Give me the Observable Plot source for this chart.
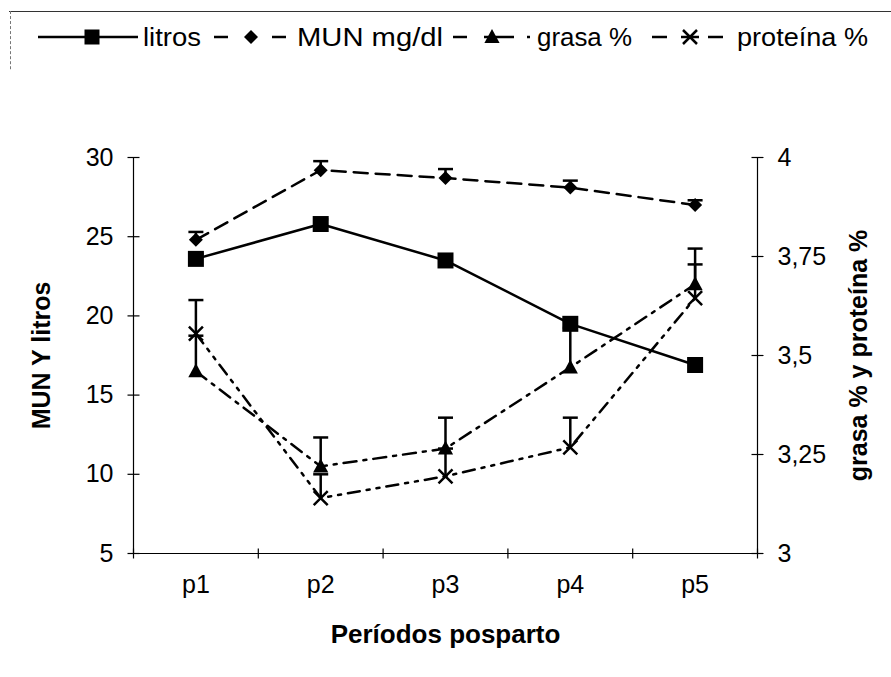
<!DOCTYPE html>
<html><head><meta charset="utf-8">
<script src="https://cdn.jsdelivr.net/npm/d3@7"></script>
<script src="https://cdn.jsdelivr.net/npm/@observablehq/plot@0.6"></script>
<style>
body{margin:0;background:#fff;font-family:"Liberation Sans",Arial,sans-serif;}
#wrap{position:relative;width:891px;height:677px;overflow:hidden;background:#fff;}
#legend{position:absolute;left:0;top:0;width:891px;height:70px;}
#chart{position:absolute;left:0;top:70px;}
#btop{position:absolute;left:9px;top:11px;width:882px;height:0;border-top:1.5px solid #333;}
#bleft{position:absolute;left:10px;top:11px;width:0;height:485px;border-left:1px dashed #777;}
</style></head><body>
<div id="wrap"><div id="btop"></div><div id="bleft"></div><div id="legend"></div><div id="chart"></div></div>
<script>
// ---- data ----
const periods = ["p1", "p2", "p3", "p4", "p5"];
const litros = [23.6, 25.8, 23.5, 19.5, 16.9];
const litrosErr = [0.3, 0.3, 0.3, 0.3, 0.2];
const mun = [24.8, 29.2, 28.7, 28.1, 27.0];
const munErr = [0.5, 0.57, 0.57, 0.44, 0.3];
const grasa = [3.46, 3.22, 3.265, 3.47, 3.68];
const grasaErr = [0.09, 0.073, 0.078, 0.10, 0.09];
const proteina = [3.555, 3.14, 3.195, 3.268, 3.645];
const proteinaErr = [0.085, 0.06, 0.07, 0.075, 0.085];
const leftTicks = [5, 10, 15, 20, 25, 30];
const rightTicks = [3, 3.25, 3.5, 3.75, 4];
const seriesNames = ["litros", "MUN mg/dl", "grasa %", "proteína %"];

// right axis (3..4) mapped onto left scale (5..30)
const toLeft = v => 5 + (v - 3) * 25;
const fmtRight = v => String(v).replace(".", ",");

const rowsOf = (vals, errs, right) => vals.map((v, k) => ({
  i: k + 1,
  v: right ? toLeft(v) : v,
  top: right ? toLeft(v + errs[k]) : v + errs[k]
}));
const rLitros = rowsOf(litros, litrosErr, false);
const rMun = rowsOf(mun, munErr, false);
const rGrasa = rowsOf(grasa, grasaErr, true);
const rProt = rowsOf(proteina, proteinaErr, true);

// custom symbols (r = half size)
const half = size => Math.sqrt(size / Math.PI);
const symSquare = {draw(c, s){const r = half(s); c.rect(-r, -r, 2*r, 2*r);}};
const symDiamond = {draw(c, s){const r = half(s); c.moveTo(0,-r); c.lineTo(r,0); c.lineTo(0,r); c.lineTo(-r,0); c.closePath();}};
const symTri = {draw(c, s){const r = half(s); c.moveTo(0,-r); c.lineTo(r*0.95, r*0.75); c.lineTo(-r*0.95, r*0.75); c.closePath();}};
const symX = {draw(c, s){const r = half(s); c.moveTo(-r,-r); c.lineTo(r,r); c.moveTo(r,-r); c.lineTo(-r,r);}};
const symH = {draw(c, s){const r = half(s); c.moveTo(-r,0); c.lineTo(r,0);}};
const symV = {draw(c, s){const r = half(s); c.moveTo(0,-r); c.lineTo(0,r);}};

const FS = 25;
const xBounds = [0.5, 1.5, 2.5, 3.5, 4.5, 5.5];

const errMarks = (rows) => [
  Plot.ruleX(rows, {x: "i", y1: "v", y2: "top", stroke: "black", strokeWidth: 2.5}),
  Plot.dot(rows, {x: "i", y: "top", symbol: symH, r: 7.5, stroke: "black", strokeWidth: 2.5, fill: "none"})
];

const plot = Plot.plot({
  width: 891,
  height: 607,
  marginTop: 87,
  marginBottom: 124,
  marginLeft: 133,
  marginRight: 134,
  style: {fontFamily: '"Liberation Sans", Arial, sans-serif', fontSize: FS + "px", color: "black", background: "white"},
  x: {domain: [0.5, 5.5], axis: null},
  y: {domain: [5, 30], axis: null},
  marks: [
    // axis lines
    Plot.ruleX([0.5, 5.5], {y1: 5, y2: 30, stroke: "black", strokeWidth: 1.2}),
    Plot.ruleY([5], {x1: 0.5, x2: 5.5, stroke: "black", strokeWidth: 1.2}),
    // tick marks crossing the axes
    Plot.dot(leftTicks, {x: 0.5, y: d => d, symbol: symH, r: 6, stroke: "black", strokeWidth: 1.2}),
    Plot.dot(rightTicks.map(toLeft), {x: 5.5, y: d => d, symbol: symH, r: 6, stroke: "black", strokeWidth: 1.2}),
    Plot.dot(xBounds, {x: d => d, y: 5, symbol: symV, r: 5, stroke: "black", strokeWidth: 1.2}),
    // tick labels
    Plot.axisY({anchor: "left", ticks: leftTicks, tickSize: 0, tickPadding: 20, fontSize: FS, label: null}),
    Plot.axisY({anchor: "right", ticks: rightTicks.map(toLeft), tickFormat: v => fmtRight(3 + (v - 5) / 25), tickSize: 0, tickPadding: 20, fontSize: FS, label: null}),
    Plot.axisX({ticks: [1, 2, 3, 4, 5], tickFormat: i => periods[i - 1], tickSize: 0, tickPadding: 22, fontSize: FS, label: null}),
    // axis titles
    Plot.text(["MUN Y litros"], {frameAnchor: "left", textAnchor: "middle", dx: -92, rotate: -90, fontWeight: "bold", fontSize: FS, text: d => d}),
    Plot.text(["grasa % y proteína %"], {frameAnchor: "right", textAnchor: "middle", dx: 101, rotate: -90, fontWeight: "bold", fontSize: FS, text: d => d}),
    Plot.text(["Períodos posparto"], {frameAnchor: "bottom", dy: 89, fontWeight: "bold", fontSize: 26, text: d => d}),
    // error bars
    ...errMarks(rLitros), ...errMarks(rMun), ...errMarks(rGrasa), ...errMarks(rProt),
    // lines
    Plot.line(rLitros, {x: "i", y: "v", stroke: "black", strokeWidth: 2.5}),
    Plot.line(rMun, {x: "i", y: "v", stroke: "black", strokeWidth: 2.5, strokeDasharray: "14,8"}),
    Plot.line(rGrasa, {x: "i", y: "v", stroke: "black", strokeWidth: 2.5, strokeDasharray: "13,7,3,7"}),
    Plot.line(rProt, {x: "i", y: "v", stroke: "black", strokeWidth: 2.5, strokeDasharray: "12,7,3,7,3,7"}),
    // markers
    Plot.dot(rLitros, {x: "i", y: "v", symbol: symSquare, r: 8, fill: "black"}),
    Plot.dot(rMun, {x: "i", y: "v", symbol: symDiamond, r: 7, fill: "black"}),
    Plot.dot(rGrasa, {x: "i", y: "v", symbol: symTri, r: 8, fill: "black"}),
    Plot.dot(rProt, {x: "i", y: "v", symbol: symX, r: 7, stroke: "black", strokeWidth: 2.5, fill: "none"})
  ]
});
document.getElementById("chart").appendChild(plot);

// ---- legend ----
const ns = "http://www.w3.org/2000/svg";
const lg = document.createElementNS(ns, "svg");
lg.setAttribute("width", 891); lg.setAttribute("height", 70);
lg.style.fontFamily = '"Liberation Sans", Arial, sans-serif';
const Y = 37;
function el(tag, attrs){const e = document.createElementNS(ns, tag); for (const k in attrs) e.setAttribute(k, attrs[k]); lg.appendChild(e); return e;}
function seg(a, b){el("line", {x1: a, x2: b, y1: Y, y2: Y, stroke: "black", "stroke-width": 2.5});}
const items = [
  {name: seriesNames[0], segs: [[38, 138]], mx: 92, sym: "square", tx: 143, tw: 58},
  {name: seriesNames[1], segs: [[214, 228], [272, 286]], mx: 251, sym: "diamond", tx: 297, tw: 146},
  {name: seriesNames[2], segs: [[453, 467], [484, 514], [527, 530]], mx: 492, sym: "tri", tx: 537, tw: 95},
  {name: seriesNames[3], segs: [[652, 667], [681, 699], [708, 723]], mx: 690, sym: "x", tx: 737, tw: 131}
];
for (const it of items) {
  for (const s of it.segs) seg(s[0], s[1]);
  const m = it.mx, r = 7.5;
  if (it.sym === "square") el("rect", {x: m - r, y: Y - r, width: 2*r, height: 2*r, fill: "black"});
  if (it.sym === "diamond") el("path", {d: `M${m},${Y-7}L${m+7},${Y}L${m},${Y+7}L${m-7},${Y}Z`, fill: "black"});
  if (it.sym === "tri") el("path", {d: `M${m},${Y-8}L${m+7.6},${Y+6}L${m-7.6},${Y+6}Z`, fill: "black"});
  if (it.sym === "x") el("path", {d: `M${m-7},${Y-7}L${m+7},${Y+7}M${m+7},${Y-7}L${m-7},${Y+7}`, stroke: "black", "stroke-width": 2.5});
  const t = el("text", {x: it.tx, y: Y, "dominant-baseline": "central", "font-size": FS, textLength: it.tw, lengthAdjust: "spacingAndGlyphs"});
  t.textContent = it.name;
}
document.getElementById("legend").appendChild(lg);
</script>
</body></html>
